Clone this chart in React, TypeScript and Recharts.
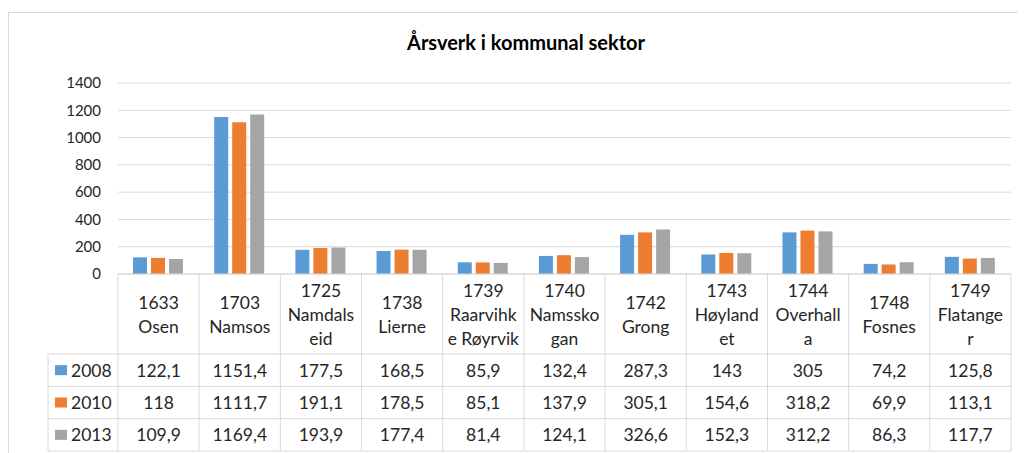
import React from "react";
import { BarChart, Bar, XAxis, YAxis, CartesianGrid } from "recharts";

const categories = [
  "1633 Osen", "1703 Namsos", "1725 Namdalseid", "1738 Lierne", "1739 Raarvihke Røyrvik",
  "1740 Namsskogan", "1742 Grong", "1743 Høylandet", "1744 Overhalla", "1748 Fosnes", "1749 Flatanger",
];
const headerLines = [
  ["1633", "Osen"], ["1703", "Namsos"], ["1725", "Namdals", "eid"], ["1738", "Lierne"],
  ["1739", "Raarvihk", "e Røyrvik"], ["1740", "Namssko", "gan"], ["1742", "Grong"],
  ["1743", "Høyland", "et"], ["1744", "Overhall", "a"], ["1748", "Fosnes"], ["1749", "Flatange", "r"],
];
const s2008 = [122.1, 1151.4, 177.5, 168.5, 85.9, 132.4, 287.3, 143, 305, 74.2, 125.8];
const s2010 = [118, 1111.7, 191.1, 178.5, 85.1, 137.9, 305.1, 154.6, 318.2, 69.9, 113.1];
const s2013 = [109.9, 1169.4, 193.9, 177.4, 81.4, 124.1, 326.6, 152.3, 312.2, 86.3, 117.7];
const seriesNames = ["2008", "2010", "2013"];
const seriesColors = ["#5b9bd5", "#ed7d31", "#a5a5a5"];
const yTicks = [0, 200, 400, 600, 800, 1000, 1200, 1400];
const title = "Årsverk i kommunal sektor";

const data = categories.map((c, i) => ({ name: c, s2008: s2008[i], s2010: s2010[i], s2013: s2013[i] }));
const seriesValues = [s2008, s2010, s2013];

const W = 1018;
const H = 441;
const MARGIN = { top: 70, right: 16, left: 0, bottom: 3 };
const Y_W = 109;
const X_H = 177;
const HEADER_H = 80;
const ROW_H = (X_H - HEADER_H) / 3;
const LEGEND_W = 70;
const FONT = "Lato, 'Open Sans', sans-serif";
const GRID = "#d9d9d9";
const TEXT = "#262626";

const fmt = (v: number) => String(v).replace(".", ",");

function TableTick(props: any) {
  const { x, y, payload } = props;
  const i: number = payload.index ?? props.index ?? 0;
  const plotW = W - MARGIN.left - MARGIN.right - Y_W;
  const half = payload.offset || plotW / categories.length / 2;
  const left = x - half;
  const right = x + half;
  const lines = headerLines[i] || [payload.value];
  const hStart = i === 0 ? left - LEGEND_W : left;
  const els: any[] = [];
  els.push(<line key="vr" x1={right} y1={y} x2={right} y2={y + X_H} stroke={GRID} />);
  if (i === 0) {
    els.push(<line key="vl" x1={left} y1={y} x2={left} y2={y + X_H} stroke={GRID} />);
    els.push(<line key="vll" x1={left - LEGEND_W} y1={y + HEADER_H} x2={left - LEGEND_W} y2={y + X_H} stroke={GRID} />);
  }
  for (let r = 0; r <= 3; r++) {
    const yy = y + HEADER_H + r * ROW_H;
    els.push(<line key={"h" + r} x1={hStart} y1={yy} x2={right} y2={yy} stroke={GRID} />);
  }
  const n = lines.length;
  lines.forEach((ln: string, k: number) => {
    els.push(
      <text key={"t" + k} x={x} y={y + HEADER_H / 2 + (k - (n - 1) / 2) * 24} textAnchor="middle"
        dominantBaseline="central" fontSize={17.5} fontFamily={FONT} fill={TEXT}>{ln}</text>
    );
  });
  seriesValues.forEach((arr, r) => {
    const cy = y + HEADER_H + ROW_H * (r + 0.5);
    els.push(
      <text key={"v" + r} x={x} y={cy} textAnchor="middle" dominantBaseline="central"
        fontSize={17.5} fontFamily={FONT} fill={TEXT}>{fmt(arr[i])}</text>
    );
    if (i === 0) {
      const lx = left - LEGEND_W + 7;
      els.push(<rect key={"lg" + r} x={lx} y={cy - 5} width={12} height={10} fill={seriesColors[r]} />);
      els.push(
        <text key={"ln" + r} x={lx + 16} y={cy} textAnchor="start" dominantBaseline="central"
          fontSize={17.5} fontFamily={FONT} fill={TEXT}>{seriesNames[r]}</text>
      );
    }
  });
  return <g>{els}</g>;
}

export default function App() {
  return (
    <div style={{ position: "relative", marginTop: 4, width: W - 1, height: H, borderTop: `1px solid ${GRID}`, borderLeft: `1px solid ${GRID}`, background: "#fff" }}>
      <div style={{ position: "absolute", left: 8, width: W, top: 17, textAlign: "center", fontFamily: FONT, fontWeight: 700, fontSize: 20, color: "#000" }}>
        {title}
      </div>
      <BarChart width={W} height={H} data={data} margin={MARGIN} barCategoryGap="18.5%" barGap={4}>
        <CartesianGrid vertical={false} stroke={GRID} />
        <XAxis dataKey="name" height={X_H} interval={0} tickSize={0} tickMargin={0} tickLine={false}
          axisLine={{ stroke: GRID }} tick={<TableTick />} />
        <YAxis width={Y_W} domain={[0, 1400]} ticks={yTicks} axisLine={false} tickLine={false}
          tickSize={0} tickMargin={17} tick={{ fontSize: 15, fontFamily: FONT, fill: TEXT }} />
        <Bar dataKey="s2008" name={seriesNames[0]} fill={seriesColors[0]} isAnimationActive={false} />
        <Bar dataKey="s2010" name={seriesNames[1]} fill={seriesColors[1]} isAnimationActive={false} />
        <Bar dataKey="s2013" name={seriesNames[2]} fill={seriesColors[2]} isAnimationActive={false} />
      </BarChart>
    </div>
  );
}
